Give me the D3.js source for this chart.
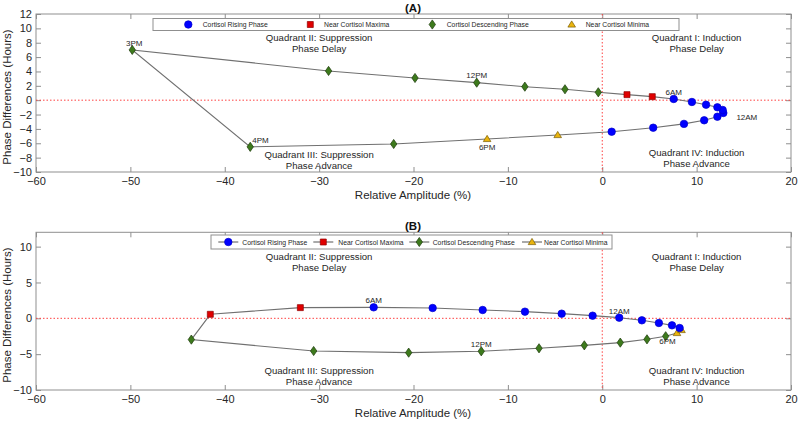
<!DOCTYPE html>
<html><head><meta charset="utf-8">
<script src="https://cdn.jsdelivr.net/npm/d3@7"></script>
<style>
body{margin:0;background:#fff;}
svg{display:block;font-family:"Liberation Sans",Arial,Helvetica,sans-serif;}
</style></head>
<body><svg id="c" width="800" height="423"></svg>
<script>
// ---------- data ----------
const hours = ["12AM","1AM","2AM","3AM","4AM","5AM","6AM","7AM","8AM","9AM","10AM","11AM",
               "12PM","1PM","2PM","3PM","4PM","5PM","6PM","7PM","8PM","9PM","10PM","11PM"];
const phases = ["rise","rise","rise","rise","rise","rise","rise","max","max",
                "desc","desc","desc","desc","desc","desc","desc","desc","desc",
                "min","min","rise","rise","rise","rise"];
const seriesNames = ["Cortisol Rising Phase","Near Cortisol Maxima","Cortisol Descending Phase","Near Cortisol Minima"];
const seriesKeys = ["rise","max","desc","min"];

// Panel A
const ampA   = [12.2, 12.83, 12.76, 12.2, 11.0, 9.5, 7.57, 5.3, 2.62, -0.42, -3.95, -8.2,
                -13.3, -19.84, -29.0, -49.8, -37.3, -22.1, -12.2, -4.72, 1.0, 5.4, 8.66, 10.8];
const phaseA = [-2.3, -1.78, -1.36, -0.99, -0.63, -0.25, 0.17, 0.49, 0.77, 1.1, 1.52, 1.88,
                2.44, 3.09, 4.07, 7.0, -6.5, -6.1, -5.4, -4.85, -4.39, -3.83, -3.3, -2.8];
// Panel B
const ampB   = [1.8, -1.02, -4.3, -8.19, -12.67, -17.97, -24.22, -31.99, -41.53, -43.54, -30.58, -20.51,
                -12.82, -6.7, -1.9, 1.91, 4.74, 6.72, 7.92, 8.4, 8.2, 7.39, 6.0, 4.2];
const phaseB = [0.09, 0.37, 0.65, 0.93, 1.16, 1.44, 1.53, 1.49, 0.56, -2.97, -4.56, -4.79,
                -4.6, -4.18, -3.77, -3.39, -2.93, -2.5, -2.05, -1.63, -1.35, -0.98, -0.65, -0.28];

const labelsA = ["12AM","6AM","12PM","3PM","4PM","6PM"];
const labelsB = ["12AM","6AM","12PM","6PM"];

const xTicks = [-60,-50,-40,-30,-20,-10,0,10,20];
const yTicksA = [-10,-8,-6,-4,-2,0,2,4,6,8,10,12];
const yTicksB = [-10,-5,0,5,10];
const xDomain = [-60,20];
const yDomain = [-10,12];

const quadrantText = [
  {q:"II", l1:"Quadrant II: Suppression", l2:"Phase Delay"},
  {q:"I",  l1:"Quadrant I: Induction",    l2:"Phase Delay"},
  {q:"III",l1:"Quadrant III: Suppression",l2:"Phase Advance"},
  {q:"IV", l1:"Quadrant IV: Induction",   l2:"Phase Advance"}
];

// ---------- styles ----------
const colors = {rise:"#0000ff", max:"#e00000", desc:"#3d7a1c", min:"#e9b40e"};
const strokes = {rise:"#0000cc", max:"#900000", desc:"#1c3a0c", min:"#7a5c00"};
const frameColor = "#8f8f8f";
const textColor = "#262626";

const svg = d3.select("#c");

function markerPath(key){
  if(key==="rise") return d3.symbol(d3.symbolCircle, 44)();
  if(key==="max")  return "M-3,-3L3,-3L3,3L-3,3Z";
  if(key==="desc") return "M0,-4.6L3.2,0L0,4.6L-3.2,0Z";
  return "M0,-3.6L3.8,2.6L-3.8,2.6Z";
}

function panel(cfg){
  const x = d3.scaleLinear().domain(xDomain).range([36,791]);
  const y = d3.scaleLinear().domain(yDomain).range([cfg.bottom, cfg.top]);
  const g = svg.append("g");

  // frame
  g.append("rect").attr("x",x(-60)).attr("y",y(12)).attr("width",x(20)-x(-60)).attr("height",y(-10)-y(12))
    .attr("fill","none").attr("stroke",frameColor).attr("stroke-width",1);

  // axes
  const ax = g.append("g").attr("transform",`translate(0,${y(-10)})`)
    .call(d3.axisBottom(x).tickValues(xTicks).tickSizeInner(-5).tickSizeOuter(0).tickPadding(5).tickFormat(d3.format("d")));
  const axT = g.append("g").attr("transform",`translate(0,${y(12)})`)
    .call(d3.axisTop(x).tickValues(xTicks).tickSizeInner(-5).tickSizeOuter(0).tickFormat(""));
  const ay = g.append("g").attr("transform",`translate(${x(-60)},0)`)
    .call(d3.axisLeft(y).tickValues(cfg.yTicks).tickSizeInner(-5).tickSizeOuter(0).tickPadding(4).tickFormat(d3.format("d")));
  const ayR = g.append("g").attr("transform",`translate(${x(20)},0)`)
    .call(d3.axisRight(y).tickValues(cfg.yTicks).tickSizeInner(-5).tickSizeOuter(0).tickFormat(""));
  [ax,axT,ay,ayR].forEach(a=>{
    a.select(".domain").remove();
    a.selectAll("line").attr("stroke",frameColor);
    a.selectAll("text").attr("fill",textColor).style("font-size","11px").style("font-family","Liberation Sans, Arial, sans-serif");
  });

  // reference lines
  g.append("line").attr("x1",x(-60)).attr("x2",x(20)).attr("y1",y(0)).attr("y2",y(0))
    .attr("stroke","#ff4040").attr("stroke-width",1).attr("stroke-dasharray","1.5,2");
  g.append("line").attr("x1",x(0)).attr("x2",x(0)).attr("y1",y(12)).attr("y2",y(-10))
    .attr("stroke","#ff4040").attr("stroke-width",1).attr("stroke-dasharray","1.5,2");

  // quadrant text
  const qpos = {II:[-30,cfg.qTop], I:[10,cfg.qTop], III:[-30,cfg.qBot3], IV:[10,cfg.qBot4]};
  quadrantText.forEach(q=>{
    const [qx,base] = qpos[q.q];
    const t = g.append("text").attr("y",base)
      .attr("text-anchor","middle").attr("fill",textColor).style("font-size","9.6px");
    t.append("tspan").attr("x",x(qx)).text(q.l1);
    t.append("tspan").attr("x",x(qx)).attr("dy",11).text(q.l2);
  });

  // data
  const pts = hours.map((h,i)=>({h, k:phases[i], x:cfg.amp[i], y:cfg.ph[i]}));
  const line = d3.line().x(d=>x(d.x)).y(d=>y(d.y)).curve(d3.curveLinearClosed);
  g.append("path").attr("d",line(pts)).attr("fill","none").attr("stroke","#707070").attr("stroke-width",1.1);

  g.selectAll("path.m").data(pts).enter().append("path").attr("class","m")
    .attr("transform",d=>`translate(${x(d.x)},${y(d.y)})`)
    .attr("d",d=>markerPath(d.k))
    .attr("fill",d=>colors[d.k]).attr("stroke",d=>strokes[d.k]).attr("stroke-width",0.7);

  // time labels
  cfg.labels.forEach(h=>{
    const d = pts[hours.indexOf(h)];
    const o = cfg.labelOff[h];
    g.append("text").attr("x",x(d.x)+o[0]).attr("y",y(d.y)+o[1]).attr("text-anchor",o[2]||"middle")
      .attr("fill",textColor).style("font-size","8px").text(h);
  });

  // title
  g.append("text").attr("x",413).attr("y",cfg.top-2.5).attr("text-anchor","middle")
    .style("font-size","11.5px").style("font-weight","bold").attr("fill","#111").text(cfg.title);

  // axis labels
  g.append("text").attr("x",413).attr("y",cfg.bottom+27).attr("text-anchor","middle")
    .style("font-size","11.5px").attr("fill",textColor).text("Relative Amplitude (%)");
  g.append("text").attr("transform",`translate(11,${(cfg.top+cfg.bottom)/2+4}) rotate(-90)`)
    .attr("text-anchor","middle").style("font-size","11.5px").attr("fill",textColor).text("Phase Differences (Hours)");

  // legend
  const L = cfg.legend;
  g.append("rect").attr("x",L.x0).attr("y",L.y0).attr("width",L.x1-L.x0).attr("height",L.y1-L.y0)
    .attr("fill","#fff").attr("stroke",frameColor).attr("stroke-width",1);
  const ly = (L.y0+L.y1)/2;
  seriesKeys.forEach((k,i)=>{
    const mx = L.mx[i];
    if(L.lines){
      g.append("line").attr("x1",mx-10).attr("x2",mx+10).attr("y1",ly).attr("y2",ly)
        .attr("stroke","#555").attr("stroke-width",1);
    }
    g.append("path").attr("transform",`translate(${mx},${ly})`).attr("d",markerPath(k))
      .attr("fill",colors[k]).attr("stroke",strokes[k]).attr("stroke-width",0.7);
    g.append("text").attr("x",L.tx[i]).attr("y",ly+2.5).attr("fill",textColor)
      .style("font-size","6.8px").text(seriesNames[i]);
  });
}

panel({top:14, bottom:172, yTicks:yTicksA, amp:ampA, ph:phaseA, title:"(A)",
  qTop:41, qBot3:158, qBot4:155.5,
  labels:labelsA,
  labelOff:{"3PM":[2,-4],"4PM":[2,-4,"start"],"12PM":[0,-5],"6AM":[0,-4],"12AM":[19,3.5,"start"],"6PM":[0,11]},
  legend:{x0:153, x1:679, y0:18.5, y1:30.5, mx:[188.3,310.3,432.3,571.7], tx:[202.7,324,446.7,585.7], lines:false}
});
panel({top:232.3, bottom:390, yTicks:yTicksB, amp:ampB, ph:phaseB, title:"(B)",
  qTop:259.5, qBot3:374, qBot4:374,
  labels:labelsB,
  labelOff:{"6AM":[0,-4],"12AM":[0,-4],"12PM":[0,-4],"6PM":[-9.5,11]},
  legend:{x0:211, x1:612, y0:235, y1:249, mx:[228.3,323.3,419.3,532], tx:[242.3,338.3,432.7,544], lines:true}
});
</script></body></html>
